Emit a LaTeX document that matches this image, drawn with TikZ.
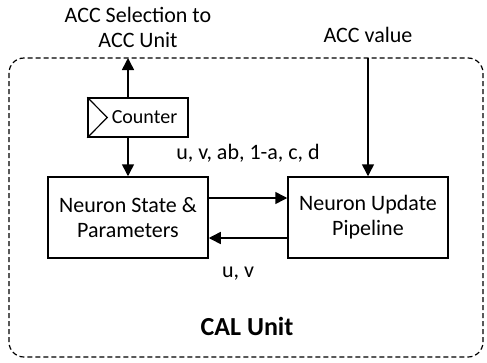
\documentclass[tikz,border=0pt]{standalone}
\usepackage{fontspec}
\setmainfont{Carlito}
\usetikzlibrary{arrows.meta}
\begin{document}
\begin{tikzpicture}[x=1pt,y=-1pt,
  blk/.style={draw,line width=1.5pt,minimum width=160pt,minimum height=81pt,align=center,inner sep=0pt,font=\fontsize{22}{25}\selectfont},
  lbl/.style={align=center,inner sep=0pt,font=\fontsize{22}{25}\selectfont},
  arr/.style={line width=1.5pt,-{Triangle[length=12pt,width=12pt]}}]
\useasboundingbox (0,0) rectangle (487,362);
\draw[line width=1.2pt,dash pattern=on 5pt off 3pt,rounded corners=15pt] (9,58) rectangle (483,357);
\node[blk] (ns) at (128,217.5) {Neuron State \&\\Parameters};
\node[blk] (nu) at (368,217.5) {Neuron Update\\Pipeline};
\node[draw,line width=1.5pt,minimum width=100pt,minimum height=39pt,inner sep=0pt,font=\fontsize{20}{24}\selectfont] (cnt) at (138,117.5) {\hspace*{13pt}Counter};
\draw[line width=1.2pt] (cnt.north west) -- ([xshift=20pt]cnt.west) -- (cnt.south west);
\coordinate (accout) at (128,58);
\coordinate (accin) at (368,58);
\draw[arr] (cnt.north -| accout) -- (accout);
\draw[arr] (cnt.south -| accout) -- (ns.north);
\draw[arr] (accin) -- (nu.north);
\draw[arr] (ns.east |- 0,198) -- (nu.west |- 0,198);
\draw[arr] (nu.west |- 0,238) -- (ns.east |- 0,238);
\node[lbl] (t1) at (138,27) {ACC Selection to\\ACC Unit};
\node[lbl] (t2) at (368,35) {ACC value};
\node[lbl] (t3) at (248,153) {u, v, ab, 1-a, c, d};
\node[lbl] (t4) at (238,274) {u, v};
\node[inner sep=0pt,font=\fontsize{26}{30}\selectfont\bfseries] (t5) at (247,326) {CAL Unit};
\end{tikzpicture}
\end{document}
